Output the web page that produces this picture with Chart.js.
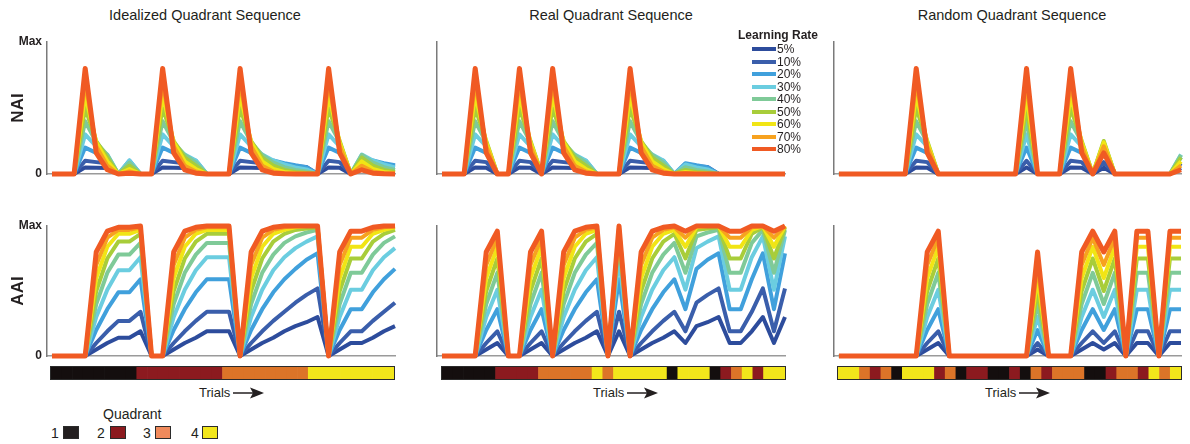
<!DOCTYPE html>
<html>
<head>
<meta charset="utf-8">
<script src="https://cdn.jsdelivr.net/npm/chart.js@4/dist/chart.umd.min.js"></script>
<style>
  body { margin: 0; background: #fff; font-family: "Liberation Sans", Arial, sans-serif; color: #231f20; }
  #wrap { position: relative; width: 1190px; height: 444px; overflow: hidden; }
  #wrap canvas.panel { position: absolute; }
  .title { position: absolute; top: 5px; width: 300px; text-align: center; font-size: 14.5px; line-height: 20px; }
  .qbar { position: absolute; top: 366px; border: 1.5px solid #2b2b2b; width: 343px; height: 12px; }
  .qbar canvas { display: block; }
  .trials { position: absolute; top: 385px; font-size: 13px; line-height: 16px; }
  .arrow { position: absolute; top: 387px; }
  #legend { position: absolute; left: 0; top: 0; }
  .lgTitle { position: absolute; left: 738px; top: 28px; font-size: 12px; font-weight: bold; line-height: 14px; white-space: nowrap; }
  .lgSw { position: absolute; left: 752px; width: 24px; height: 4px; }
  .lgTx { position: absolute; left: 777px; font-size: 12px; line-height: 14px; }
  .qTitle { position: absolute; left: 103px; top: 406px; font-size: 14px; line-height: 16px; }
  .qNum { position: absolute; top: 425px; font-size: 14px; line-height: 16px; }
  .qBox { position: absolute; top: 426px; height: 13px; box-sizing: border-box; border: 1.5px solid #2b2b2b; }
</style>
</head>
<body>
<div id="wrap">
  <div class="title" style="left:55px">Idealized Quadrant Sequence</div>
  <div class="title" style="left:461px">Real Quadrant Sequence</div>
  <div class="title" style="left:862px">Random Quadrant Sequence</div>

  <canvas class="panel" id="idealNai" width="400" height="190" style="left:0;top:0"></canvas>
  <canvas class="panel" id="realNai" width="400" height="190" style="left:400px;top:0"></canvas>
  <canvas class="panel" id="randomNai" width="390" height="190" style="left:800px;top:0"></canvas>
  <canvas class="panel" id="idealAai" width="400" height="180" style="left:0;top:190px"></canvas>
  <canvas class="panel" id="realAai" width="400" height="180" style="left:400px;top:190px"></canvas>
  <canvas class="panel" id="randomAai" width="390" height="180" style="left:800px;top:190px"></canvas>

  <div class="qbar" style="left:50px"><canvas id="idealBar" width="343" height="12"></canvas></div>
  <div class="qbar" style="left:440.5px"><canvas id="realBar" width="343" height="12"></canvas></div>
  <div class="qbar" style="left:837px"><canvas id="randomBar" width="343" height="12"></canvas></div>

  <div class="trials" style="left:199px">Trials</div>
  <div class="trials" style="left:593px">Trials</div>
  <div class="trials" style="left:985px">Trials</div>
  <svg class="arrow" style="left:233px" width="31" height="12"><line x1="0" y1="6" x2="22" y2="6" stroke="#231f20" stroke-width="1.5"/><polygon points="17,0.5 31,6 17,11.5 20,6" fill="#231f20"/></svg>
  <svg class="arrow" style="left:627px" width="31" height="12"><line x1="0" y1="6" x2="22" y2="6" stroke="#231f20" stroke-width="1.5"/><polygon points="17,0.5 31,6 17,11.5 20,6" fill="#231f20"/></svg>
  <svg class="arrow" style="left:1019px" width="31" height="12"><line x1="0" y1="6" x2="22" y2="6" stroke="#231f20" stroke-width="1.5"/><polygon points="17,0.5 31,6 17,11.5 20,6" fill="#231f20"/></svg>

  <div id="legend"><div class="lgTitle">Learning Rate</div></div>

  <div class="qTitle">Quadrant</div>
  <div class="qNum" style="left:51px">1</div>
  <div class="qBox" style="left:63px;width:16px;background:#231f20"></div>
  <div class="qNum" style="left:97px">2</div>
  <div class="qBox" style="left:110px;width:16px;background:#8c1a1f"></div>
  <div class="qNum" style="left:143px">3</div>
  <div class="qBox" style="left:155px;width:16px;background:#f08a5c"></div>
  <div class="qNum" style="left:191px">4</div>
  <div class="qBox" style="left:202px;width:16px;background:#f2e61b"></div>
</div>
<script>
const trials = [1,2,3,4,5,6,7,8,9,10,11,12,13,14,15,16,17,18,19,20,21,22,23,24,25,26,27,28,29,30,31,32];
const rates = ['5%','10%','20%','30%','40%','50%','60%','70%','80%'];
const rateColors = ['#2d4c9c','#3a5eab','#40a0dc','#6bcde0','#7fca98','#a8cd3a','#f1e515','#f7a21f','#f05a23'];
const quadColors = ['#140e0e','#8c1a1f','#dc7428','#f2e61b'];

const idealQuad = [1,1,1,1,1,1,1,1,2,2,2,2,2,2,2,2,3,3,3,3,3,3,3,3,4,4,4,4,4,4,4,4];
const realQuad = [1,1,1,1,1,2,2,2,2,3,3,3,3,3,4,3,4,4,4,4,4,1,4,4,4,1,2,3,4,2,4,4];
const randomQuad = [4,4,3,2,3,1,4,4,4,2,3,1,2,2,1,1,2,1,3,2,3,3,3,1,1,2,3,3,2,4,3,4];

// NAI, one row per learning rate (5% .. 80%)
const idealNAI = [
  [0,0,0,.05,.048,.045,0,.043,0,0,.05,.048,.045,.043,0,0,0,.05,.048,.045,.043,.041,.039,.037,0,.05,.048,0,.045,.043,.041,.039],
  [0,0,0,.1,.09,.081,0,.073,0,0,.1,.09,.081,.073,0,0,0,.1,.09,.081,.073,.066,.059,.053,0,.1,.09,0,.081,.073,.066,.059],
  [0,0,0,.2,.16,.128,0,.102,0,0,.2,.16,.128,.102,0,0,0,.2,.16,.128,.102,.082,.066,.052,0,.2,.16,0,.128,.102,.082,.066],
  [0,0,0,.3,.21,.147,0,.103,0,0,.3,.21,.147,.103,0,0,0,.3,.21,.147,.103,.072,.05,.035,0,.3,.21,0,.147,.103,.072,.05],
  [0,0,0,.4,.24,.144,0,.086,0,0,.4,.24,.144,.086,0,0,0,.4,.24,.144,.086,.052,.031,.019,0,.4,.24,0,.144,.086,.052,.031],
  [0,0,0,.5,.25,.125,0,.063,0,0,.5,.25,.125,.063,0,0,0,.5,.25,.125,.063,.031,.016,.008,0,.5,.25,0,.125,.063,.031,.016],
  [0,0,0,.6,.24,.096,0,.038,0,0,.6,.24,.096,.038,0,0,0,.6,.24,.096,.038,.015,.006,.002,0,.6,.24,0,.096,.038,.015,.006],
  [0,0,0,.7,.21,.063,0,.019,0,0,.7,.21,.063,.019,0,0,0,.7,.21,.063,.019,.006,.002,.001,0,.7,.21,0,.063,.019,.006,.002],
  [0,0,0,.8,.16,.032,0,.006,0,0,.8,.16,.032,.006,0,0,0,.8,.16,.032,.006,.001,0,0,0,.8,.16,0,.032,.006,.001,0]
];
const idealAAI = [
  [0,0,0,0,.05,.1,.14,.14,.19,0,0,.05,.1,.14,.19,.19,.19,0,.05,.1,.14,.19,.23,.26,.3,0,.05,.1,.1,.14,.19,.23],
  [0,0,0,0,.1,.19,.27,.27,.34,0,0,.1,.19,.27,.34,.34,.34,0,.1,.19,.27,.34,.41,.47,.52,0,.1,.19,.19,.27,.34,.41],
  [0,0,0,0,.2,.36,.49,.49,.59,0,0,.2,.36,.49,.59,.59,.59,0,.2,.36,.49,.59,.67,.74,.79,0,.2,.36,.36,.49,.59,.67],
  [0,0,0,0,.3,.51,.66,.66,.76,0,0,.3,.51,.66,.76,.76,.76,0,.3,.51,.66,.76,.83,.88,.92,0,.3,.51,.51,.66,.76,.83],
  [0,0,0,0,.4,.64,.78,.78,.87,0,0,.4,.64,.78,.87,.87,.87,0,.4,.64,.78,.87,.92,.95,.97,0,.4,.64,.64,.78,.87,.92],
  [0,0,0,0,.5,.75,.88,.88,.94,0,0,.5,.75,.88,.94,.94,.94,0,.5,.75,.88,.94,.97,.98,.99,0,.5,.75,.75,.88,.94,.97],
  [0,0,0,0,.6,.84,.94,.94,.97,0,0,.6,.84,.94,.97,.97,.97,0,.6,.84,.94,.97,.99,1,1,0,.6,.84,.84,.94,.97,.99],
  [0,0,0,0,.7,.91,.97,.97,.99,0,0,.7,.91,.97,.99,.99,.99,0,.7,.91,.97,.99,1,1,1,0,.7,.91,.91,.97,.99,1],
  [0,0,0,0,.8,.96,.99,.99,1,0,0,.8,.96,.99,1,1,1,0,.8,.96,.99,1,1,1,1,0,.8,.96,.96,.99,1,1]
];
const realNAI = [
  [0,0,0,.05,.048,0,0,.05,.048,0,.05,.048,.045,.043,0,0,0,.05,.048,.045,.043,0,.041,.039,.037,0,0,0,0,0,0,0],
  [0,0,0,.1,.09,0,0,.1,.09,0,.1,.09,.081,.073,0,0,0,.1,.09,.081,.073,0,.066,.059,.053,0,0,0,0,0,0,0],
  [0,0,0,.2,.16,0,0,.2,.16,0,.2,.16,.128,.102,0,0,0,.2,.16,.128,.102,0,.082,.066,.052,0,0,0,0,0,0,0],
  [0,0,0,.3,.21,0,0,.3,.21,0,.3,.21,.147,.103,0,0,0,.3,.21,.147,.103,0,.072,.05,.035,0,0,0,0,0,0,0],
  [0,0,0,.4,.24,0,0,.4,.24,0,.4,.24,.144,.086,0,0,0,.4,.24,.144,.086,0,.052,.031,.019,0,0,0,0,0,0,0],
  [0,0,0,.5,.25,0,0,.5,.25,0,.5,.25,.125,.063,0,0,0,.5,.25,.125,.063,0,.031,.016,.008,0,0,0,0,0,0,0],
  [0,0,0,.6,.24,0,0,.6,.24,0,.6,.24,.096,.038,0,0,0,.6,.24,.096,.038,0,.015,.006,.002,0,0,0,0,0,0,0],
  [0,0,0,.7,.21,0,0,.7,.21,0,.7,.21,.063,.019,0,0,0,.7,.21,.063,.019,0,.006,.002,.001,0,0,0,0,0,0,0],
  [0,0,0,.8,.16,0,0,.8,.16,0,.8,.16,.032,.006,0,0,0,.8,.16,.032,.006,0,.001,0,0,0,0,0,0,0,0,0]
];
const realAAI = [
  [0,0,0,0,.05,.1,0,0,.05,.1,0,.05,.1,.14,.19,0,.19,0,.05,.1,.14,.19,.1,.23,.26,.3,.1,.1,.19,.3,.1,.3],
  [0,0,0,0,.1,.19,0,0,.1,.19,0,.1,.19,.27,.34,0,.34,0,.1,.19,.27,.34,.19,.41,.47,.52,.19,.19,.34,.52,.19,.52],
  [0,0,0,0,.2,.36,0,0,.2,.36,0,.2,.36,.49,.59,0,.59,0,.2,.36,.49,.59,.36,.67,.74,.79,.36,.36,.59,.79,.36,.79],
  [0,0,0,0,.3,.51,0,0,.3,.51,0,.3,.51,.66,.76,0,.76,0,.3,.51,.66,.76,.51,.83,.88,.92,.51,.51,.76,.92,.51,.92],
  [0,0,0,0,.4,.64,0,0,.4,.64,0,.4,.64,.78,.87,0,.87,0,.4,.64,.78,.87,.64,.92,.95,.97,.64,.64,.87,.97,.64,.97],
  [0,0,0,0,.5,.75,0,0,.5,.75,0,.5,.75,.88,.94,0,.94,0,.5,.75,.88,.94,.75,.97,.98,.99,.75,.75,.94,.99,.75,.99],
  [0,0,0,0,.6,.84,0,0,.6,.84,0,.6,.84,.94,.97,0,.97,0,.6,.84,.94,.97,.84,.99,1,1,.84,.84,.97,1,.84,1],
  [0,0,0,0,.7,.91,0,0,.7,.91,0,.7,.91,.97,.99,0,.99,0,.7,.91,.97,.99,.91,1,1,1,.91,.91,.99,1,.91,1],
  [0,0,0,0,.8,.96,0,0,.8,.96,0,.8,.96,.99,1,0,1,0,.8,.96,.99,1,.96,1,1,1,.96,.96,1,1,.96,1]
];
const randomNAI = [
  [0,0,0,0,0,0,0,.05,.048,0,0,0,0,0,0,0,0,.05,0,0,0,.05,.048,0,.048,0,0,0,0,0,0,.045],
  [0,0,0,0,0,0,0,.1,.09,0,0,0,0,0,0,0,0,.1,0,0,0,.1,.09,0,.09,0,0,0,0,0,0,.081],
  [0,0,0,0,0,0,0,.2,.16,0,0,0,0,0,0,0,0,.2,0,0,0,.2,.16,0,.16,0,0,0,0,0,0,.128],
  [0,0,0,0,0,0,0,.3,.21,0,0,0,0,0,0,0,0,.3,0,0,0,.3,.21,0,.21,0,0,0,0,0,0,.147],
  [0,0,0,0,0,0,0,.4,.24,0,0,0,0,0,0,0,0,.4,0,0,0,.4,.24,0,.24,0,0,0,0,0,0,.144],
  [0,0,0,0,0,0,0,.5,.25,0,0,0,0,0,0,0,0,.5,0,0,0,.5,.25,0,.25,0,0,0,0,0,0,.125],
  [0,0,0,0,0,0,0,.6,.24,0,0,0,0,0,0,0,0,.6,0,0,0,.6,.24,0,.24,0,0,0,0,0,0,.096],
  [0,0,0,0,0,0,0,.7,.21,0,0,0,0,0,0,0,0,.7,0,0,0,.7,.21,0,.21,0,0,0,0,0,0,.063],
  [0,0,0,0,0,0,0,.8,.16,0,0,0,0,0,0,0,0,.8,0,0,0,.8,.16,0,.16,0,0,0,0,0,0,.032]
];
const randomAAI = [
  [0,0,0,0,0,0,0,0,.05,.1,0,0,0,0,0,0,0,0,.05,0,0,0,.05,.1,.05,.1,0,.1,.1,0,.1,.1],
  [0,0,0,0,0,0,0,0,.1,.19,0,0,0,0,0,0,0,0,.1,0,0,0,.1,.19,.1,.19,0,.19,.19,0,.19,.19],
  [0,0,0,0,0,0,0,0,.2,.36,0,0,0,0,0,0,0,0,.2,0,0,0,.2,.36,.2,.36,0,.36,.36,0,.36,.36],
  [0,0,0,0,0,0,0,0,.3,.51,0,0,0,0,0,0,0,0,.3,0,0,0,.3,.51,.3,.51,0,.51,.51,0,.51,.51],
  [0,0,0,0,0,0,0,0,.4,.64,0,0,0,0,0,0,0,0,.4,0,0,0,.4,.64,.4,.64,0,.64,.64,0,.64,.64],
  [0,0,0,0,0,0,0,0,.5,.75,0,0,0,0,0,0,0,0,.5,0,0,0,.5,.75,.5,.75,0,.75,.75,0,.75,.75],
  [0,0,0,0,0,0,0,0,.6,.84,0,0,0,0,0,0,0,0,.6,0,0,0,.6,.84,.6,.84,0,.84,.84,0,.84,.84],
  [0,0,0,0,0,0,0,0,.7,.91,0,0,0,0,0,0,0,0,.7,0,0,0,.7,.91,.7,.91,0,.91,.91,0,.91,.91],
  [0,0,0,0,0,0,0,0,.8,.96,0,0,0,0,0,0,0,0,.8,0,0,0,.8,.96,.8,.96,0,.96,.96,0,.96,.96]
];

const fam = '"Liberation Sans", Arial, Helvetica, sans-serif';
Chart.defaults.font.family = fam;
Chart.defaults.color = '#231f20';

// geometry of each panel: y-axis box width, right padding, top padding, x-axis box height
function linePanel(id, series, g, yTitle) {
  const datasets = series.map((vals, i) => ({
    label: rates[i],
    data: vals,
    borderColor: rateColors[i],
    backgroundColor: rateColors[i],
    borderWidth: i === series.length - 1 ? 5 : 4,
    borderJoinStyle: 'round',
    pointRadius: 0,
    tension: 0,
    fill: false,
    clip: false,
    order: series.length - 1 - i
  }));
  return new Chart(document.getElementById(id), {
    type: 'line',
    data: { labels: trials, datasets: datasets },
    options: {
      responsive: false,
      animation: false,
      events: [],
      layout: { padding: { left: 0, right: g.right, top: g.top, bottom: 0 } },
      plugins: { legend: { display: false }, tooltip: { enabled: false } },
      scales: {
        x: {
          type: 'linear', min: 0.55, max: 32,
          ticks: { display: false },
          grid: { display: false, drawTicks: false },
          border: { display: true, color: '#9a9a9a', width: 1.5 },
          afterFit: s => { s.height = g.xh; }
        },
        y: {
          min: 0, max: 1,
          grid: { display: false, drawTicks: false },
          border: { display: true, color: '#7a7a7a', width: 1.5 },
          afterBuildTicks: s => { s.ticks = [{ value: 0 }, { value: 1 }]; },
          ticks: {
            display: !!yTitle, padding: 5, color: '#231f20',
            font: { size: 12, weight: 'bold' },
            callback: v => (v === 1 ? 'Max' : '0')
          },
          title: {
            display: !!yTitle, text: yTitle || '', color: '#231f20',
            font: { size: 17, weight: 'bold' }, padding: { top: 8, bottom: 0 }
          },
          afterFit: s => { s.width = g.yw; }
        }
      }
    }
  });
}

function quadPanel(id, seq) {
  return new Chart(document.getElementById(id), {
    type: 'bar',
    data: {
      labels: trials,
      datasets: [{
        data: seq.map(() => 1),
        backgroundColor: seq.map(q => quadColors[q - 1]),
        borderWidth: 0,
        barPercentage: 1,
        categoryPercentage: 1
      }]
    },
    options: {
      responsive: false,
      animation: false,
      events: [],
      layout: { padding: 0 },
      plugins: { legend: { display: false }, tooltip: { enabled: false } },
      scales: {
        x: { display: false },
        y: { display: false, min: 0, max: 1 }
      }
    }
  });
}

const naiRow = { top: 42, xh: 16 };
const aaiRow = { top: 36, xh: 14 };
const col1 = { yw: 47, right: 5 };
const col2 = { yw: 37, right: 15 };
const col3 = { yw: 34, right: 9 };

linePanel('idealNai', idealNAI, Object.assign({}, naiRow, col1), 'NAI');
linePanel('realNai', realNAI, Object.assign({}, naiRow, col2));
linePanel('randomNai', randomNAI, Object.assign({}, naiRow, col3));
linePanel('idealAai', idealAAI, Object.assign({}, aaiRow, col1), 'AAI');
linePanel('realAai', realAAI, Object.assign({}, aaiRow, col2));
linePanel('randomAai', randomAAI, Object.assign({}, aaiRow, col3));

quadPanel('idealBar', idealQuad);
quadPanel('realBar', realQuad);
quadPanel('randomBar', randomQuad);

// learning rate legend
const lg = document.getElementById('legend');
rates.forEach((r, i) => {
  const cy = 49.3 + 12.5 * i;
  const sw = document.createElement('div');
  sw.className = 'lgSw';
  sw.style.top = (cy - 2) + 'px';
  sw.style.background = rateColors[i];
  lg.appendChild(sw);
  const tx = document.createElement('div');
  tx.className = 'lgTx';
  tx.style.top = (cy - 7) + 'px';
  tx.textContent = r;
  lg.appendChild(tx);
});
</script>
</body>
</html>
